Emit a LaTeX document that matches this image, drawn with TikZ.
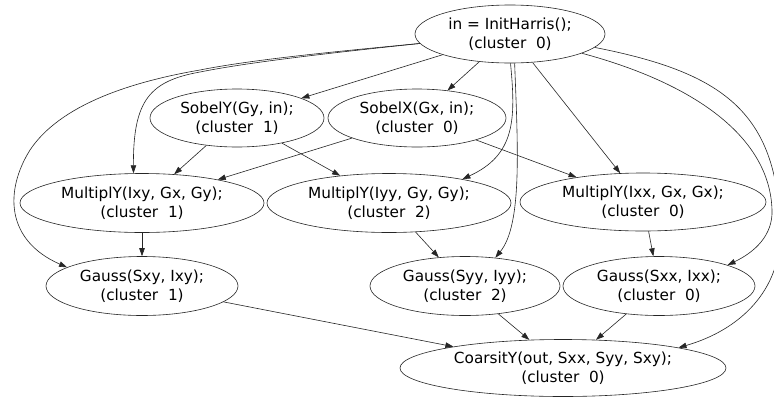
\documentclass[tikz,border=0pt]{standalone}
\usepackage{fontspec}
\setmainfont{DejaVu Sans}
\usetikzlibrary{shapes.geometric,arrows.meta}
\begin{document}
\begin{tikzpicture}[x=1pt,y=-1pt,
  gnode/.style={draw=black!85, line width=0.6pt, ellipse, inner sep=0pt, align=center,
    font=\fontsize{15.3}{19.5}\selectfont},
  edge/.style={draw=black!85, line width=0.6pt, -{Triangle[length=8pt,width=5.5pt]}}]
\useasboundingbox (0,0) rectangle (774,397);
\fill[white] (0,0) rectangle (774,397);
\node[gnode, minimum width=190pt, minimum height=58pt] (in) at (510,34) {in = InitHarris();\\(cluster~~0)};
\node[gnode, minimum width=174pt, minimum height=58pt] (sy) at (237,118) {SobelY(Gy, in);\\(cluster~~1)};
\node[gnode, minimum width=178pt, minimum height=58pt] (sx) at (417,118) {SobelX(Gx, in);\\(cluster~~0)};
\node[gnode, minimum width=244pt, minimum height=59pt] (mxy) at (142,203) {MultiplY(Ixy, Gx, Gy);\\(cluster~~1)};
\node[gnode, minimum width=244pt, minimum height=59pt] (myy) at (389,203) {MultiplY(Iyy, Gy, Gy);\\(cluster~~2)};
\node[gnode, minimum width=246pt, minimum height=58pt] (mxx) at (643,202) {MultiplY(Ixx, Gx, Gx);\\(cluster~~0)};
\node[gnode, minimum width=192pt, minimum height=59pt] (gxy) at (142,286) {Gauss(Sxy, Ixy);\\(cluster~~1)};
\node[gnode, minimum width=190pt, minimum height=59pt] (gyy) at (465,286) {Gauss(Syy, Iyy);\\(cluster~~2)};
\node[gnode, minimum width=192pt, minimum height=59pt] (gxx) at (659,286) {Gauss(Sxx, Ixx);\\(cluster~~0)};
\node[gnode, minimum width=326pt, minimum height=57pt] (co) at (563,368) {CoarsitY(out, Sxx, Syy, Sxy);\\(cluster~~0)};

% straight edges
\draw[edge] (in) -- (sy);
\draw[edge] (in) -- (sx);
\draw[edge] (in) -- (mxx);
\draw[edge] (sy) -- (mxy);
\draw[edge] (sy) -- (myy);
\draw[edge] (sx) -- (mxy);
\draw[edge] (sx) -- (mxx);
\draw[edge] (mxy) -- (gxy);
\draw[edge] (myy) -- (gyy);
\draw[edge] (mxx) -- (gxx);
\draw[edge] (gxy) -- (co);
\draw[edge] (gyy) -- (co);
\draw[edge] (gxx) -- (co);

% curved edges
\draw[edge] (in.186) .. controls (330,53) and (250,62) .. (200,72)
  .. controls (150,81) and (133,100) .. (mxy.106);
\draw[edge] (in.186) .. controls (330,52) and (250,60) .. (200,70)
  .. controls (130,82) and (60,105) .. (30,150)
  .. controls (5,190) and (5,240) .. (gxy.166);
\draw[edge] (in.271) .. controls (516,120) and (515,155) .. (myy.18);
\draw[edge] (in.279) .. controls (518,150) and (522,225) .. (gyy.43);
\draw[edge] (in.345) .. controls (700,85) and (770,140) .. (772,210)
  .. controls (773,235) and (755,252) .. (gxx.17);
\draw[edge] (in.351) .. controls (720,72) and (778,110) .. (780,230)
  .. controls (782,290) and (740,330) .. (co.10);
\end{tikzpicture}
\end{document}
